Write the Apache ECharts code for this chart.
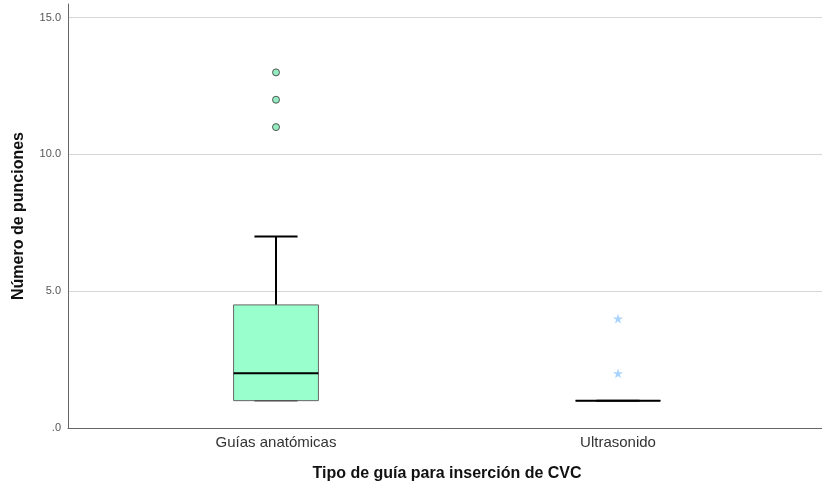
<!DOCTYPE html>
<html>
<head>
<meta charset="UTF-8">
<title>Número de punciones</title>
<style>
  html, body { margin: 0; padding: 0; background: #fff; }
  #main { width: 822px; height: 489px; }
</style>
</head>
<body>
<div id="main"></div>
<script src="https://cdn.jsdelivr.net/npm/echarts@6/dist/echarts.min.js"></script>
<script>
// categorias y resumen de cada caja: [min, q1, mediana, q3, max]
var categories = ['Guías anatómicas', 'Ultrasonido'];
var boxStats = [
  [1, 1, 2, 4.5, 7],
  [1, 1, 1, 1, 1]
];
// atipicos (circulo) y extremos (estrella)
var outliers = [[0, 11], [0, 12], [0, 13]];
var extremes = [[1, 2], [1, 4]];
var yMin = 0, yMax = 15.5, yStep = 5;

var font = '"Liberation Sans", Arial, sans-serif';
var starPath = 'path://M50,0 L61,35 L98,35 L68,57 L79,91 L50,70 L21,91 L32,57 L2,35 L39,35 Z';

var boxData = boxStats.map(function (s, i) { return [i].concat(s); });

var myChart = echarts.init(document.getElementById('main'));

myChart.setOption({
  animation: false,
  textStyle: { fontFamily: font },
  grid: [
    { left: 68, right: 0, top: 4, bottom: 61 },
    { left: 105, right: 33, top: 4, bottom: 61 }
  ],
  xAxis: [{
    gridIndex: 0,
    type: 'value', min: 0, max: 1,
    axisLine: { show: true, onZero: false, lineStyle: { color: '#666', width: 1 } },
    axisTick: { show: false },
    axisLabel: { show: false },
    splitLine: { show: false }
  }, {
    gridIndex: 1,
    type: 'category',
    data: categories,
    axisLine: { show: false },
    axisTick: { show: false },
    axisLabel: { color: '#333', fontSize: 15, margin: 7, fontFamily: font },
    name: 'Tipo de guía para inserción de CVC',
    nameLocation: 'middle',
    nameGap: 38,
    nameTextStyle: { color: '#111', fontSize: 16, fontWeight: 'bold', fontFamily: font }
  }],
  yAxis: [{
    gridIndex: 0,
    type: 'value', min: yMin, max: yMax, interval: yStep,
    axisLine: { show: true, lineStyle: { color: '#666', width: 1 } },
    axisTick: { show: false },
    axisLabel: {
      color: '#555', fontSize: 11, margin: 7, fontFamily: font,
      showMaxLabel: false,
      formatter: function (v) { return v === 0 ? '.0' : v.toFixed(1); }
    },
    splitLine: { show: true, showMinLine: false, showMaxLine: false, lineStyle: { color: '#d6d6d6', width: 1 } },
    name: 'Número de punciones',
    nameLocation: 'middle',
    nameGap: 41,
    nameTextStyle: { color: '#111', fontSize: 16, fontWeight: 'bold', fontFamily: font }
  }, {
    gridIndex: 1,
    type: 'value', min: yMin, max: yMax, interval: yStep,
    show: false
  }],
  series: [{
    type: 'custom',
    xAxisIndex: 1, yAxisIndex: 1,
    data: boxData,
    z: 2,
    renderItem: function (params, api) {
      var x = api.value(0);
      var band = api.size([1, 0])[0];
      var hw = band * 0.124, cw = band * 0.063;
      var pMin = api.coord([x, api.value(1)]);
      var pQ1 = api.coord([x, api.value(2)]);
      var pMed = api.coord([x, api.value(3)]);
      var pQ3 = api.coord([x, api.value(4)]);
      var pMax = api.coord([x, api.value(5)]);
      var cx = pMed[0];
      var whisker = { stroke: '#000', lineWidth: 2 };
      return {
        type: 'group',
        children: [
          { type: 'line', shape: { x1: cx, y1: pQ3[1], x2: cx, y2: pMax[1] }, style: whisker },
          { type: 'line', shape: { x1: cx, y1: pQ1[1], x2: cx, y2: pMin[1] }, style: whisker },
          { type: 'line', shape: { x1: cx - cw, y1: pMax[1], x2: cx + cw, y2: pMax[1] }, style: whisker },
          { type: 'rect', shape: { x: cx - hw, y: pQ3[1], width: hw * 2, height: pQ1[1] - pQ3[1] },
            style: { fill: '#99ffcc', stroke: '#666', lineWidth: 1 } },
          { type: 'line', shape: { x1: cx - cw, y1: pMin[1], x2: cx + cw, y2: pMin[1] },
            style: { stroke: '#555', lineWidth: 1.5 } },
          { type: 'line', shape: { x1: cx - hw, y1: pMed[1], x2: cx + hw, y2: pMed[1] }, style: whisker }
        ]
      };
    }
  }, {
    type: 'scatter',
    xAxisIndex: 1, yAxisIndex: 1,
    data: outliers,
    symbol: 'circle',
    symbolSize: 7,
    itemStyle: { color: '#7ae6b2', borderColor: '#333', borderWidth: 1 },
    z: 3
  }, {
    type: 'scatter',
    xAxisIndex: 1, yAxisIndex: 1,
    data: extremes,
    symbol: starPath,
    symbolSize: 10,
    itemStyle: { color: '#93c8ff' },
    z: 3
  }]
});
</script>
</body>
</html>
